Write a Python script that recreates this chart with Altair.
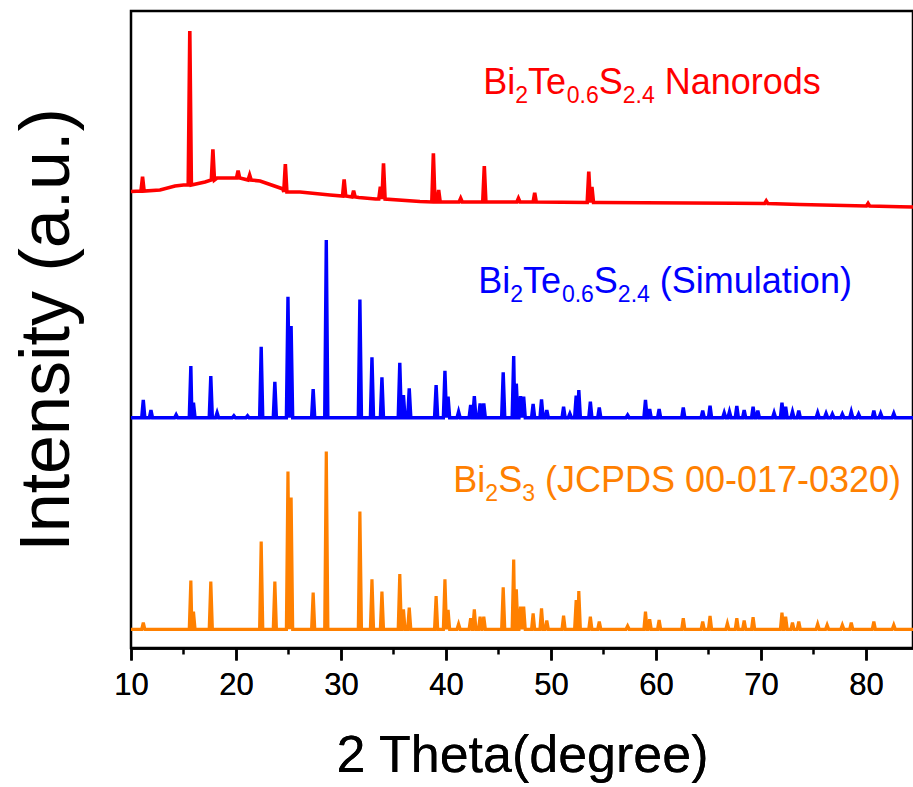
import altair as alt
import pandas as pd

# ---------------- data ----------------
X_MIN, X_MAX = 10.0, 84.48

# Bi2Te0.6S2.4 (Simulation) peaks: position (2θ), height above baseline
sim_pos = [11.17, 11.9, 14.3, 15.7, 15.95, 17.6, 18.2, 19.8, 21.1, 22.4, 23.7, 24.95, 25.25,
           27.35, 28.6, 31.8, 32.95, 33.9, 35.6, 35.95, 36.5, 39.06, 39.9, 40.2, 41.2, 42.35,
           42.7, 43.25, 43.6, 45.45, 46.45, 46.7, 47.1, 47.4, 48.3, 49.1, 49.6, 51.2, 51.8,
           52.4, 52.65, 53.75, 54.6, 57.3, 59.0, 59.4, 60.3, 62.6, 64.45, 65.15, 66.5, 67.0,
           67.7, 68.4, 69.25, 69.7, 71.25, 72.0, 72.35, 73.0, 73.6, 75.4, 76.2, 76.8, 77.75,
           78.6, 79.3, 80.75, 81.4, 82.65]
sim_int = [17.7, 7.7, 3, 51.7, 15, 41.7, 5, 2, 2, 71, 36, 121, 91.7,
           28.7, 177.7, 118.3, 60.3, 40.3, 55, 22.7, 29.3, 32.7, 47, 21, 6, 12.7,
           21.7, 14.3, 14.3, 45.3, 61.7, 34, 21.7, 21, 13.7, 18.3, 7.7, 11, 4,
           22, 27.7, 16, 10.3, 2.7, 17.7, 8.7, 8.7, 10.3, 7, 12, 5, 6,
           11.7, 7.7, 11, 7, 5, 15, 11, 6, 7, 5, 4.3, 3.7, 3.7,
           6, 3.7, 7, 4.3, 4.3]
sim_base = 230.3

# Bi2S3 (JCPDS 00-017-0320) peaks
ref_pos = [11.17, 15.7, 15.95, 17.6, 22.4, 23.7, 24.95, 25.25, 27.35, 28.6, 31.8, 32.95, 33.9,
           35.6, 35.95, 36.5, 39.06, 39.9, 40.2, 41.2, 42.35, 42.7, 43.25, 43.6, 45.45, 46.45,
           46.7, 47.1, 47.4, 48.3, 49.1, 49.6, 51.2, 52.4, 52.65, 53.75, 54.6, 57.3, 59.0,
           59.4, 60.3, 62.6, 64.45, 65.15, 66.8, 67.7, 68.4, 69.25, 72.0, 72.35, 73.0, 73.6,
           75.4, 76.3, 77.75, 78.6, 80.75, 82.65]
ref_int = [6.7, 48.7, 17.7, 47.7, 87.7, 47.7, 157.7, 131.7, 36.7, 177.7, 117.7, 50, 37.7,
           55.3, 20, 21.7, 33.3, 50, 19.3, 5.3, 11, 20, 12.7, 12.7, 42, 69.7,
           40, 22.7, 22.7, 16, 21, 8.7, 13.7, 29.3, 38.3, 12.7, 7.7, 3.3, 17.7,
           10, 9.3, 11, 7.7, 13.3, 6, 11, 8.7, 12, 16.7, 12.7, 6.7, 7.7,
           5.3, 4.3, 4.3, 6.7, 7.7, 4.3]
ref_base = 18.7

# Bi2Te0.6S2.4 Nanorods: background points and peaks (position, foot level, top level)
rod_bg_x = [10.0, 12.76, 14.19, 15.0, 17.05, 18.19, 20.38, 22.29, 24.48, 26.1, 28.95, 31.7,
            33.3, 37.52, 45.14, 54.67, 67.33, 73.71, 83.24, 84.48]
rod_bg_y = [456.5, 458, 462, 463, 466, 470, 470, 467, 459, 456, 453, 450.5,
            449, 446.5, 446, 445.5, 444.7, 443.5, 441.3, 441]
rod_pos = [11.1, 15.6, 17.8, 20.2, 21.3, 24.7, 30.3, 31.2, 33.75, 34.05, 38.8, 39.3, 41.4,
           43.65, 46.9, 48.45, 53.6, 53.9, 70.5, 80.2]
rod_foot = [457, 463, 468, 470, 468, 456, 452, 451, 449, 449, 446, 446, 446,
            446, 446, 446, 445.5, 445.5, 444.5, 442]
rod_top = [471.3, 617, 498.7, 477.3, 473, 484, 468.7, 457.3, 461.3, 484.7, 494.7, 458, 449.7,
           482, 449.7, 455.3, 476.3, 461, 447, 444.5]

series_names = ["Nanorods", "Simulation", "JCPDS"]
series_colors = ["#FF0000", "#0000FF", "#FF8000"]
series_widths = [3.6, 3.2, 3.2]

x_major = [10, 20, 30, 40, 50, 60, 70, 80]
x_minor = [15, 25, 35, 45, 55, 65, 75]

# labels: (text, is_subscript)
labels = [
    ("Nanorods", "#FF0000", 43.55, 553.7,
     [("Bi", 0), ("2", 1), ("Te", 0), ("0.6", 1), ("S", 0), ("2.4", 1), (" Nanorods", 0)]),
    ("Simulation", "#0000FF", 43.08, 355.3,
     [("Bi", 0), ("2", 1), ("Te", 0), ("0.6", 1), ("S", 0), ("2.4", 1), (" (Simulation)", 0)]),
    ("JCPDS", "#FF8000", 40.7, 156.3,
     [("Bi", 0), ("2", 1), ("S", 0), ("3", 1), (" (JCPDS 00-017-0320)", 0)]),
]

# ---------------- layout / style ----------------
W, H = 782, 637
FONT = "Liberation Sans"
MAIN_FS, SUB_FS, SUB_DROP = 36, 23, 9
PEAK_HW = 0.15

ARIAL_W = {"B": .667, "i": .222, "T": .611, "e": .556, "S": .667, " ": .278, "N": .722,
           "a": .556, "n": .556, "o": .556, "r": .333, "d": .556, "s": .5, ".": .278,
           "(": .333, ")": .333, "m": .833, "u": .556, "l": .222, "t": .278, "J": .5,
           "C": .722, "P": .667, "D": .722, "-": .333}
KERN = {"Te": -0.09}


def seg_width(t, fs):
    w = sum(ARIAL_W.get(c, .556) for c in t)
    for pair, k in KERN.items():
        w += t.count(pair) * k
    return w * fs


px_per_unit = W / (X_MAX - X_MIN)

# ---------------- build tables ----------------
rows = []


def add_peaks(name, base, pos, inten):
    pts = [(X_MIN, base), (X_MAX, base)]
    for p, h in zip(pos, inten):
        pts += [(p - PEAK_HW, base), (p, base + h), (p + PEAK_HW, base)]
    pts.sort(key=lambda t: t[0])
    for i, (x, y) in enumerate(pts):
        rows.append({"series": name, "x": x, "y": y, "i": i})


add_peaks("Simulation", sim_base, sim_pos, sim_int)
add_peaks("JCPDS", ref_base, ref_pos, ref_int)
pts = list(zip(rod_bg_x, rod_bg_y))
for p, f, t in zip(rod_pos, rod_foot, rod_top):
    pts += [(p - PEAK_HW, f), (p, t), (p + PEAK_HW, f)]
pts.sort(key=lambda t: t[0])
for i, (x, y) in enumerate(pts):
    rows.append({"series": "Nanorods", "x": x, "y": y, "i": i})
lines_df = pd.DataFrame(rows)

trows = []
for _, col, x0, y0, segs in labels:
    off = 0.0
    for txt, sub in segs:
        fs = SUB_FS if sub else MAIN_FS
        lead = len(txt) - len(txt.lstrip(" "))
        off += lead * ARIAL_W[" "] * fs
        t = txt.lstrip(" ")
        trows.append({"t": t, "x": x0 + off / px_per_unit,
                      "y": y0 - (SUB_DROP if sub else 0), "fs": fs, "c": col})
        off += seg_width(t, fs)
text_df = pd.DataFrame(trows)

xscale = alt.Scale(domain=[X_MIN, X_MAX], nice=False, zero=False)
yscale = alt.Scale(domain=[0, H], nice=False, zero=False)

yaxis = alt.Axis(title="Intensity (a.u.)", labels=False, ticks=False, domain=False, grid=False,
                 titleFontSize=70, titleFont=FONT, titleFontWeight="normal", titleColor="black",
                 titlePadding=48)
xaxis = alt.Axis(title="2 Theta(degree)", values=x_major, format="d", grid=False, orient="bottom",
                 tickSize=12, tickWidth=2.5, tickColor="black", domainColor="black", domainWidth=2.5,
                 labelFontSize=31, labelFont=FONT, labelColor="black", labelPadding=10,
                 titleFontSize=52, titleFont=FONT, titleFontWeight="normal", titleColor="black",
                 titlePadding=30, labelFlush=False)

lines = alt.Chart(lines_df).mark_line(strokeJoin="miter").encode(
    x=alt.X("x:Q", scale=xscale, axis=xaxis),
    y=alt.Y("y:Q", scale=yscale, axis=yaxis),
    color=alt.Color("series:N", scale=alt.Scale(domain=series_names, range=series_colors), legend=None),
    strokeWidth=alt.StrokeWidth("series:N", scale=alt.Scale(domain=series_names, range=series_widths),
                                legend=None),
    order="i:Q",
    detail="series:N",
)

texts = alt.Chart(text_df).mark_text(align="left", baseline="alphabetic", font=FONT).encode(
    x=alt.X("x:Q", scale=xscale, axis=xaxis),
    y=alt.Y("y:Q", scale=yscale, axis=yaxis),
    text="t:N",
    size=alt.Size("fs:Q", scale=None),
    color=alt.Color("c:N", scale=None),
)

minor = alt.Chart(pd.DataFrame({"m": x_minor})).mark_point(opacity=0).encode(
    x=alt.X("m:Q", scale=xscale,
            axis=alt.Axis(title=None, values=x_minor, labels=False, domain=False, grid=False,
                          orient="bottom", tickSize=6, tickWidth=2.5, tickColor="black")),
    y=alt.value(0),
)

chart = alt.layer(lines, texts, minor).resolve_scale(x="independent").resolve_axis(
    x="independent").properties(
    width=W, height=H,
    autosize=alt.AutoSizeParams(type="none"),
    padding={"left": 131, "top": 11, "right": 0, "bottom": 139},
    background="white",
).configure_view(stroke="black", strokeWidth=2.5)

chart.save("out.html", embed_options={"renderer": "svg", "actions": False})
